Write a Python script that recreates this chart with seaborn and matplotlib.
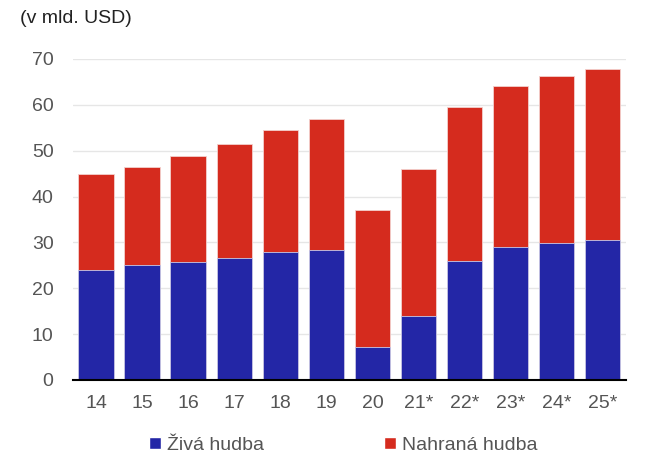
import numpy as np
import pandas as pd
import matplotlib.pyplot as plt
import seaborn as sns
from matplotlib.patches import Patch

# values (bn USD)
years = ["14", "15", "16", "17", "18", "19", "20", "21*", "22*", "23*", "24*", "25*"]
live = [24.0, 25.1, 25.7, 26.6, 27.8, 28.4, 7.3, 14.0, 25.9, 28.9, 29.8, 30.6]
recorded = [20.9, 21.3, 23.1, 24.9, 26.8, 28.6, 29.7, 31.9, 33.7, 35.1, 36.4, 37.3]

BLUE = "#2326a6"
RED = "#d52b1e"
GREY = "#555555"

df = pd.DataFrame({"year": years, "live": live, "recorded": recorded})
df["total"] = df["live"] + df["recorded"]

sns.set_style("white")
plt.rcParams["font.family"] = ["Liberation Sans", "DejaVu Sans"]

fig = plt.figure(figsize=(6.7, 4.75), dpi=100)
ax = fig.add_axes([0.109, 0.2, 0.825, 0.676])

# stacked bars: total in red, live part in blue on top of it
sns.barplot(data=df, x="year", y="total", color=RED, width=0.77,
            edgecolor="#f3d0cd", linewidth=0.6, saturation=1, ax=ax)
sns.barplot(data=df, x="year", y="live", color=BLUE, width=0.77,
            edgecolor="#c9cae8", linewidth=0.6, saturation=1, ax=ax)

ax.set_ylim(0, 70)
ax.set_xlim(-0.5, len(years) - 0.5)
ax.set_yticks(np.arange(0, 71, 10))
ax.yaxis.grid(True, color="#e6e6e6", linewidth=1)
ax.set_axisbelow(True)
for side in ["top", "right", "left"]:
    ax.spines[side].set_visible(False)
ax.spines["bottom"].set_color("black")
ax.spines["bottom"].set_linewidth(1.5)

ax.set_xlabel("")
ax.set_ylabel("")
ax.tick_params(axis="y", length=0, pad=14, labelsize=14, labelcolor=GREY)
ax.tick_params(axis="x", which="major", length=0, pad=11, labelsize=14, labelcolor=GREY)
ax.set_xticks(np.arange(-0.5, len(years), 1), minor=True)
ax.tick_params(axis="x", which="minor", length=6, width=1.5, color="black", direction="out")

fig.text(0.03, 0.962, "(v mld. USD)", fontsize=14, color="#222222", va="center", ha="left")

handles = [Patch(facecolor=BLUE, label="Živá hudba"),
           Patch(facecolor=RED, label="Nahraná hudba")]
fig.legend(handles=handles, loc="center", bbox_to_anchor=(0.512, 0.062), ncol=2,
           frameon=False, fontsize=14, handlelength=0.6, handleheight=0.6,
           handletextpad=0.3, columnspacing=6.2, labelcolor=GREY)

fig.savefig("out.png", dpi=100)
